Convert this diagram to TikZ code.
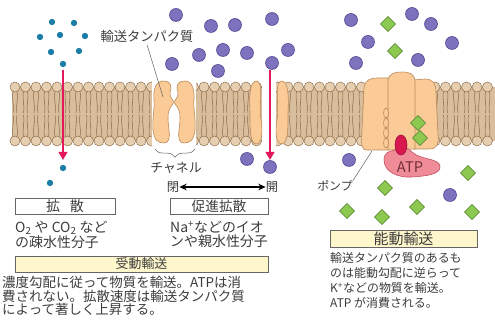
\documentclass[tikz,border=0pt]{standalone}
\usepackage{fontspec}
\setmainfont{Noto Sans CJK JP}
\usetikzlibrary{arrows.meta,shapes.geometric,decorations.pathreplacing}

\definecolor{headfill}{HTML}{E6CFB0}
\definecolor{bandfill}{HTML}{D8BE9C}
\definecolor{lipidline}{HTML}{8A6A48}
\definecolor{protfill}{HTML}{FACB96}
\definecolor{protline}{HTML}{B9895A}
\definecolor{ionfill}{HTML}{7C72BE}
\definecolor{ionline}{HTML}{4E4590}
\definecolor{molblue}{HTML}{1C7EA8}
\definecolor{subfill}{HTML}{8DC850}
\definecolor{subline}{HTML}{4F7F2C}
\definecolor{arrowred}{HTML}{E2195C}
\definecolor{atpred}{HTML}{D9174F}
\definecolor{atppink}{HTML}{F08C98}
\definecolor{atpline}{HTML}{C0505E}
\definecolor{labelyellow}{HTML}{FFF7CC}
\definecolor{textgray}{HTML}{3C3C3C}

\begin{document}
\begin{tikzpicture}[x=0.03cm, y=-0.03cm,
  lipidhead/.style={draw=lipidline, fill=headfill, line width=0.4pt},
  lipidtail/.style={draw=lipidline, line width=0.45pt},
  protein/.style={draw=protline, fill=protfill, line width=0.5pt},
  smallmol/.style={circle, fill=molblue, inner sep=0pt, minimum size=0.19cm},
  ion/.style={circle, draw=ionline, fill=ionfill, inner sep=0pt, minimum size=0.39cm, line width=0.5pt},
  substrate/.style={diamond, draw=subline, fill=subfill, inner sep=0pt, minimum size=0.46cm, line width=0.5pt},
  flow/.style={draw=arrowred, line width=2.4pt, -{Triangle[length=2.4mm,width=2.6mm]}},
  leader/.style={draw=gray!70!black, line width=0.4pt},
  label/.style={text=textgray, inner sep=0pt},
  caption/.style={text=textgray, inner sep=0pt, align=left, anchor=north west},
  titlebox/.style={draw=gray!80!black, line width=0.6pt, text=textgray, inner sep=0pt, minimum height=0.5cm},
]
  \useasboundingbox (0,0) rectangle (495,320);

  % Lipid bilayer
  \fill[bandfill] (12,87) rectangle (495,141);
  \foreach \x in {15,25.5,...,494} {
    \draw[lipidtail] (\x-2,91) .. controls (\x-3.5,100) and (\x-0.5,105) .. (\x-2,113);
    \draw[lipidtail] (\x+2,91) .. controls (\x+3.5,100) and (\x+0.5,105) .. (\x+2,113);
    \draw[lipidtail] (\x-2,137) .. controls (\x-3.5,128) and (\x-0.5,123) .. (\x-2,115);
    \draw[lipidtail] (\x+2,137) .. controls (\x+3.5,128) and (\x+0.5,123) .. (\x+2,115);
    \draw[lipidhead] (\x,87) circle (5);
    \draw[lipidhead] (\x,141) circle (5);
  }
  \fill[white] (152,78) rectangle (196,150);
  \fill[white] (262,78) rectangle (276,150);

  % Carrier protein (two halves)
  \foreach \sh/\xs in {0/1, 348/-1}
    \draw[protein, shift={(\sh,0)}, xscale=\xs]
      (163,81) .. controls (156,81) and (153,90) .. (154,100)
      .. controls (155,108) and (152,118) .. (153,130)
      .. controls (154,140) and (158,143) .. (164,143)
      .. controls (169,143) and (170,138) .. (169,130)
      .. controls (168,122) and (167,113) .. (170,108)
      .. controls (173,104) and (175,102) .. (172,99)
      .. controls (169,96) and (170,92) .. (171,88)
      .. controls (171,83) and (168,81) .. (163,81) -- cycle;

  % Channel
  \foreach \sh/\xs in {0/1, 538/-1}
    \draw[protein, shift={(\sh,0)}, xscale=\xs]
      (256,81) .. controls (250,82) and (249,95) .. (250,112)
      .. controls (250,130) and (250,143) .. (256,144)
      .. controls (262,144) and (263,132) .. (261,120)
      .. controls (259,110) and (262,92) .. (260,85)
      .. controls (259,82) and (258,81) .. (256,81) -- cycle;

  % Pump
  \draw[protein] (366,150) .. controls (362,150) and (361,145) .. (362,130) -- (364,88)
    .. controls (365,80) and (370,78) .. (378,78) -- (390,78) -- (390,150) -- cycle;
  \draw[protein] (413,80) -- (425,79) .. controls (433,79) and (436,84) .. (436,92)
    -- (438,135) .. controls (439,145) and (436,149) .. (430,149) -- (413,149) -- cycle;
  \draw[protein] (388,150) -- (388,82) .. controls (388,73) and (395,72) .. (402,72)
    .. controls (410,72) and (415,74) .. (415,82) -- (415,149) -- cycle;
  \foreach \y in {113,123,133,143}
    \draw[protein] (386,\y) ellipse (2.5 and 5);

  % ATP
  \draw[draw=atpline, fill=atppink, line width=0.5pt] (396,150)
    .. controls (390,151) and (384,152) .. (384,160)
    .. controls (384,172) and (398,178) .. (412,177)
    .. controls (428,176) and (441,174) .. (440,166)
    .. controls (439,158) and (420,160) .. (412,152)
    .. controls (409,147) and (399,146) .. (396,150) -- cycle;
  \draw[draw=atpred!70!black, fill=atpred, line width=0.5pt] (401,145) ellipse (6 and 10);
  \node[text=atpline!60!black, inner sep=0pt, font=\fontsize{12.5}{13}\selectfont] (atp) at (410,167) {ATP};

  % Molecules
  \foreach \p [count=\i] in {(52,22),(74,23),(40,37),(60,35),(85,36),(51,52),(79,51),(63,64),(63,168),(50,183)}
    \node[smallmol] (mol\i) at \p {};
  \foreach \p [count=\i] in {(176,15),(211,26),(235,25),(223,50),(199,55),(172,64),(218,71),(247,53),
      (272,19),(288,50),(272,63),(351,20),(368,42),(356,63),(412,14),(431,24),(418,60),(452,43),
      (247,159),(270,167),(349,160),(450,195)}
    \node[ion] (ion\i) at \p {};
  \foreach \p [count=\i] in {(388,24),(395,51),(418,123),(420,138),(385,188),(347,211),(382,217),
      (417,207),(468,173),(472,212)}
    \node[substrate] (sub\i) at \p {};

  % Flow arrows
  \coordinate (difftop) at (63,70);
  \coordinate (diffbot) at (63,160);
  \coordinate (chantop) at (270,70);
  \coordinate (chanbot) at (270,160);
  \draw[flow] (difftop) -- (diffbot);
  \draw[flow] (chantop) -- (chanbot);

  % Labels and leaders
  \node[label, font=\fontsize{11.3}{12}\selectfont] (carrierlabel) at (147,36) {輸送タンパク質};
  \coordinate (carriertip) at (163,97);
  \draw[leader] ([yshift=-2pt]carrierlabel.south) -- (carriertip);
  \node[label, font=\fontsize{10.2}{11}\selectfont] (pumplabel) at (335,186) {ポンプ};
  \coordinate (pumptip) at (372,151);
  \draw[leader] (pumplabel.north east) -- (pumptip);
  \draw[draw=gray!80!black, line width=0.5pt, decorate, decoration={brace, amplitude=7pt, mirror}]
    (155,149) -- (195,149);
  \node[label, font=\fontsize{11}{12}\selectfont] (chanlabel) at (176,168) {チャネル};
  \node[label, font=\fontsize{10.5}{11}\selectfont] (closed) at (173,187) {閉};
  \node[label, font=\fontsize{10.5}{11}\selectfont] (open) at (272,187) {開};
  \draw[{Stealth[length=2.2mm,width=2mm]}-{Stealth[length=2.2mm,width=2mm]}, line width=1.2pt]
    (closed) -- (open);

  % Passive transport
  \node[titlebox, minimum width=3cm, font=\fontsize{12}{12}\selectfont] (simplebox) at (65,206.5) {拡\hspace{0.7em}散};
  \node[titlebox, minimum width=2.94cm, font=\fontsize{11.7}{12}\selectfont] (facilbox) at (219,206.5) {促進拡散};
  \node[caption, font=\fontsize{11.9}{11.9}\selectfont] (simpletext) at (15,221)
    {O\textsubscript{2} や CO\textsubscript{2} など\\の疎水性分子};
  \node[caption, font=\fontsize{11.9}{11.9}\selectfont] (faciltext) at (170,221)
    {Na\textsuperscript{+}などのイオ\\ンや親水性分子};
  \node[titlebox, fill=labelyellow, minimum width=7.59cm, minimum height=0.48cm,
        font=\fontsize{11}{12}\selectfont] (passivebox) at (141.5,264) {受動輸送};
  \node[caption, font=\fontsize{11.5}{11.5}\selectfont] (passivetext) at (2,276)
    {濃度勾配に従って物質を輸送。ATPは消\\費されない。拡散速度は輸送タンパク質\\によって著しく上昇する。};

  % Active transport
  \node[titlebox, fill=labelyellow, minimum width=4.41cm, minimum height=0.51cm,
        font=\fontsize{12.8}{13}\selectfont] (activebox) at (403.5,238.5) {能動輸送};
  \node[caption, font=\fontsize{10.2}{13}\selectfont] (activetext) at (330,252)
    {輸送タンパク質のあるも\\のは能動勾配に逆らって\\K\textsuperscript{+}などの物質を輸送。\\ATP が消費される。};
\end{tikzpicture}
\end{document}
